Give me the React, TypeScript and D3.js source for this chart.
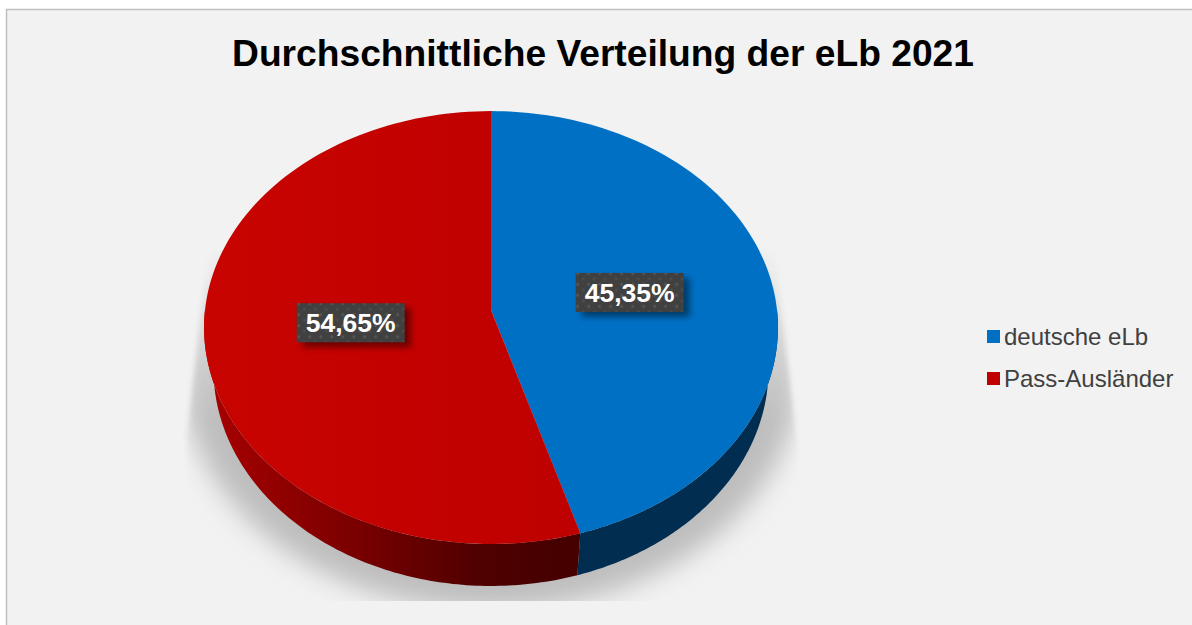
import React from 'react';
import * as d3 from 'd3';

const categories = ['deutsche eLb', 'Pass-Ausländer'];
const shares = [45.35, 54.65];
const shareLabels = ['45,35%', '54,65%'];
const labelNudgeX = [-2, 2];
const labelNudgeY = [-2, -3];
const topColors = ['#0070c5', 'url(#topRed)'];
const legendColors = ['#0070c5', '#c00000'];
const title = 'Durchschnittliche Verteilung der eLb 2021';

const width = 1192;
const height = 625;
const font = '"Liberation Sans", Arial, sans-serif';

// pie is tilted with a bit of perspective, so the centre sits above the ellipse middle
const cx = 491;
const cy = 310;
const radiusX = 286;
const radiusY = 215;
const persp = 0.081;
const depth = 42;
const bottomScale = 0.967; // lower rim looks narrower than the top one

const project = (a: number, r = 1): [number, number] => {
  const u = Math.sin(a) * r;
  const v = -Math.cos(a) * r;
  const k = 1 - persp * v;
  return [cx + (radiusX * u) / k, cy + (radiusY * v) / k];
};

const slices = d3.pie<number>().sort(null)(shares);
const line = d3.line();

const arcPoints = (a0: number, a1: number) =>
  d3.range(0, 121).map((i) => project(a0 + ((a1 - a0) * i) / 120));

const topPath = (s: d3.PieArcDatum<number>) =>
  line([[cx, cy], ...arcPoints(s.startAngle, s.endAngle)]) + 'Z';

// wall runs between the top rim and the narrower bottom rim, the top face hides the rest
const wallPath = (s: d3.PieArcDatum<number>) => {
  const a0 = Math.max(s.startAngle, Math.PI / 2);
  const a1 = Math.min(s.endAngle, (Math.PI * 3) / 2);
  const pts = arcPoints(a0, a1);
  const low = pts
    .map(([x, y]) => [cx + (x - cx) * bottomScale, y + depth] as [number, number])
    .reverse();
  return line([...pts, ...low]) + 'Z';
};

const labelAt = (s: d3.PieArcDatum<number>) => project((s.startAngle + s.endAngle) / 2, 0.5);

export default function App() {
  return (
    <svg
      width={width}
      height={height}
      style={{ position: 'absolute', left: 0, top: 0, background: '#fff' }}
    >
      <defs>
        <filter id="shadowBlur" x="-20%" y="-20%" width="140%" height="140%">
          <feGaussianBlur stdDeviation="13" />
        </filter>
        <filter id="maskBlur" x="-10%" y="-10%" width="120%" height="120%">
          <feGaussianBlur stdDeviation="2.5" />
        </filter>
        <filter id="boxShadow" x="-20%" y="-30%" width="150%" height="170%">
          <feGaussianBlur stdDeviation="3" />
        </filter>
        <clipPath id="shadowClip">
          <rect x={0} y={0} width={width} height={601} />
        </clipPath>
        {/* shadow fades out towards the top and has soft side edges */}
        <linearGradient id="shadowFade" gradientUnits="userSpaceOnUse" x1="0" x2="0" y1="250" y2="420">
          <stop offset="0" stopColor="#fff" stopOpacity={0.15} />
          <stop offset="1" stopColor="#fff" stopOpacity={1} />
        </linearGradient>
        <mask id="shadowMask" maskUnits="userSpaceOnUse" x={0} y={0} width={width} height={height}>
          <path d="M208,250L186,440L186,640L797,640L797,440L775,250Z" fill="url(#shadowFade)" filter="url(#maskBlur)" />
        </mask>
        <linearGradient id="wallRed" gradientUnits="userSpaceOnUse" x1="205" x2="560" y1="0" y2="0">
          <stop offset="0" stopColor="#a80000" />
          <stop offset="0.35" stopColor="#820000" />
          <stop offset="0.75" stopColor="#520000" />
          <stop offset="1" stopColor="#460000" />
        </linearGradient>
        <linearGradient id="topRed" gradientUnits="userSpaceOnUse" x1="205" x2="580" y1="0" y2="0">
          <stop offset="0" stopColor="#c80400" />
          <stop offset="1" stopColor="#be0000" />
        </linearGradient>
        <pattern id="dots" width="11" height="11" patternUnits="userSpaceOnUse">
          <rect width="11" height="11" fill="#404040" />
          <circle cx="3" cy="3" r="1.4" fill="#595959" />
          <circle cx="8.5" cy="8.5" r="1.4" fill="#4d4d4d" />
        </pattern>
      </defs>

      <rect x={6.5} y={9.5} width={width} height={height} fill="#f2f2f2" stroke="#bfbfbf" strokeWidth={1.5} />

      <text x={603} y={66} textAnchor="middle" fontFamily={font} fontWeight="700" fontSize={37.2} fill="#000">
        {title}
      </text>

      <g clipPath="url(#shadowClip)">
        <g mask="url(#shadowMask)">
          <ellipse cx={491} cy={374} rx={308} ry={236} fill="#bdbdbd" filter="url(#shadowBlur)" />
        </g>
      </g>

      {slices.map((s, i) => (
        <path key={'wall' + i} d={wallPath(s)} fill={i === 0 ? '#002d50' : 'url(#wallRed)'} />
      ))}
      {slices.map((s, i) => (
        <path key={'top' + i} d={topPath(s)} fill={topColors[i]} />
      ))}

      {slices.map((s, i) => {
        const [x, y] = labelAt(s);
        const bw = 108;
        const bh = 39;
        return (
          <g key={'label' + i} transform={`translate(${x + labelNudgeX[i]},${y + labelNudgeY[i]})`}>
            <rect x={-bw / 2 + 6} y={-bh / 2 + 5} width={bw} height={bh} fill="#000" opacity={0.45} filter="url(#boxShadow)" />
            <rect x={-bw / 2} y={-bh / 2} width={bw} height={bh} fill="url(#dots)" />
            <text y={9.5} textAnchor="middle" fontFamily={font} fontWeight="700" fontSize={26.5} fill="#fff">
              {shareLabels[i]}
            </text>
          </g>
        );
      })}

      {categories.map((c, i) => (
        <g key={c} transform={`translate(987,${337 + i * 42})`}>
          <rect x={0} y={-7} width={13} height={13} fill={legendColors[i]} />
          <text x={17} y={8} fontFamily={font} fontSize={24} fill="#404040">
            {c}
          </text>
        </g>
      ))}
    </svg>
  );
}
